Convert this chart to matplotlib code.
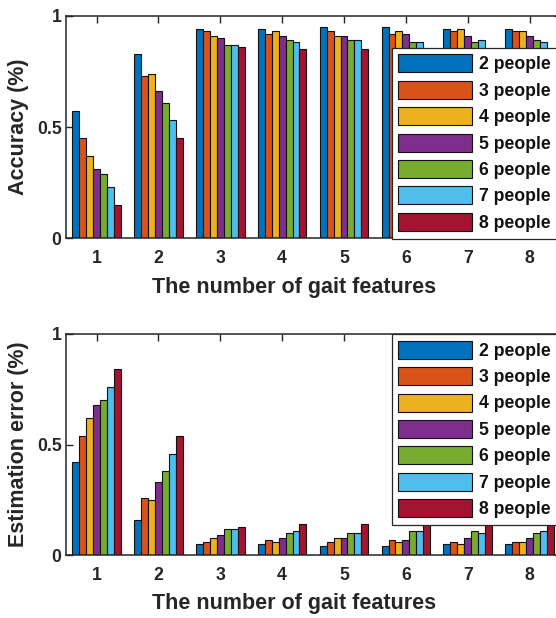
import matplotlib
matplotlib.use("Agg")
import matplotlib.pyplot as plt
import numpy as np

plt.rcParams['font.family'] = ['Liberation Sans', 'DejaVu Sans']
plt.rcParams['font.weight'] = 'bold'

features = [1, 2, 3, 4, 5, 6, 7, 8]
series_labels = ['2 people', '3 people', '4 people', '5 people',
                 '6 people', '7 people', '8 people']
colors = ['#0072BD', '#D95319', '#EDB120', '#7E2F8E',
          '#77AC30', '#4DBEEE', '#A2142F']

# accuracy[feature][people]
accuracy = [
    [0.57, 0.45, 0.37, 0.31, 0.29, 0.23, 0.15],
    [0.83, 0.73, 0.74, 0.66, 0.61, 0.53, 0.45],
    [0.94, 0.93, 0.91, 0.90, 0.87, 0.87, 0.86],
    [0.94, 0.92, 0.93, 0.91, 0.89, 0.88, 0.85],
    [0.95, 0.93, 0.91, 0.91, 0.89, 0.89, 0.85],
    [0.95, 0.92, 0.93, 0.92, 0.88, 0.88, 0.85],
    [0.94, 0.93, 0.94, 0.91, 0.88, 0.89, 0.84],
    [0.94, 0.93, 0.93, 0.91, 0.89, 0.88, 0.85],
]

# estimation error[feature][people]
est_error = [
    [0.42, 0.54, 0.62, 0.68, 0.70, 0.76, 0.84],
    [0.16, 0.26, 0.25, 0.33, 0.38, 0.46, 0.54],
    [0.05, 0.06, 0.08, 0.09, 0.12, 0.12, 0.13],
    [0.05, 0.07, 0.06, 0.08, 0.10, 0.11, 0.14],
    [0.04, 0.06, 0.08, 0.08, 0.10, 0.10, 0.14],
    [0.04, 0.07, 0.06, 0.07, 0.11, 0.11, 0.15],
    [0.05, 0.06, 0.05, 0.08, 0.11, 0.10, 0.15],
    [0.05, 0.06, 0.06, 0.08, 0.10, 0.11, 0.14],
]

ink = '#262626'
W, H = 556, 618
fig = plt.figure(figsize=(W / 100, H / 100), dpi=100)


def px_rect(x0, y0, x1, y1):
    return [x0 / W, 1 - y1 / H, (x1 - x0) / W, (y1 - y0) / H]


def draw_panel(ax, data, ylabel, legend_top):
    data = np.asarray(data)
    x = np.asarray(features, dtype=float)
    n = data.shape[1]
    bw = 0.112
    for j in range(n):
        offs = (j - (n - 1) / 2) * bw
        ax.bar(x + offs, data[:, j], width=bw, color=colors[j],
               edgecolor='#111111', linewidth=0.8, label=series_labels[j],
               zorder=2)
    ax.set_xlim(0.5, 8.5)
    ax.set_ylim(0, 1)
    ax.set_xticks(features)
    ax.set_xticklabels([str(f) for f in features])
    ax.set_yticks([0, 0.5, 1])
    ax.set_yticklabels(['0', '0.5', '1'])
    ax.tick_params(direction='in', length=5, width=1.0, colors=ink,
                   labelsize=12.7, top=True, right=True)
    ax.tick_params(axis='x', pad=8.5)
    ax.tick_params(axis='y', pad=3)
    for lab in ax.get_xticklabels() + ax.get_yticklabels():
        lab.set_fontweight('bold')
    for sp in ax.spines.values():
        sp.set_color(ink)
        sp.set_linewidth(1.1)
        sp.set_zorder(3)
    ax.set_xlabel('The number of gait features', fontsize=15.5,
                  fontweight='bold', color=ink)
    ax.xaxis.set_label_coords(0.462, -0.172)
    ax.set_ylabel(ylabel, fontsize=15.5, fontweight='bold', color=ink)
    ax.yaxis.set_label_coords(-0.074, 0.5)
    leg = ax.legend(loc='upper left',
                    bbox_to_anchor=(391.7 / W, 1 - legend_top / H),
                    bbox_transform=fig.transFigure, borderaxespad=0,
                    fontsize=12.7, handlelength=4.2, handleheight=1.2,
                    handletextpad=0.35, labelspacing=0.42, borderpad=0.38,
                    fancybox=False, framealpha=1, edgecolor=ink)
    leg.get_frame().set_linewidth(0.9)
    leg.set_zorder(5)
    for t in leg.get_texts():
        t.set_fontweight('bold')
        t.set_color('#111111')


ax1 = fig.add_axes(px_rect(65.7, 15.7, 560.5, 238.3))
draw_panel(ax1, accuracy, 'Accuracy (%)', 47.7)

ax2 = fig.add_axes(px_rect(65.7, 334.0, 560.5, 555.3))
draw_panel(ax2, est_error, 'Estimation error (%)', 334.0)

fig.savefig('out.png', dpi=100)
